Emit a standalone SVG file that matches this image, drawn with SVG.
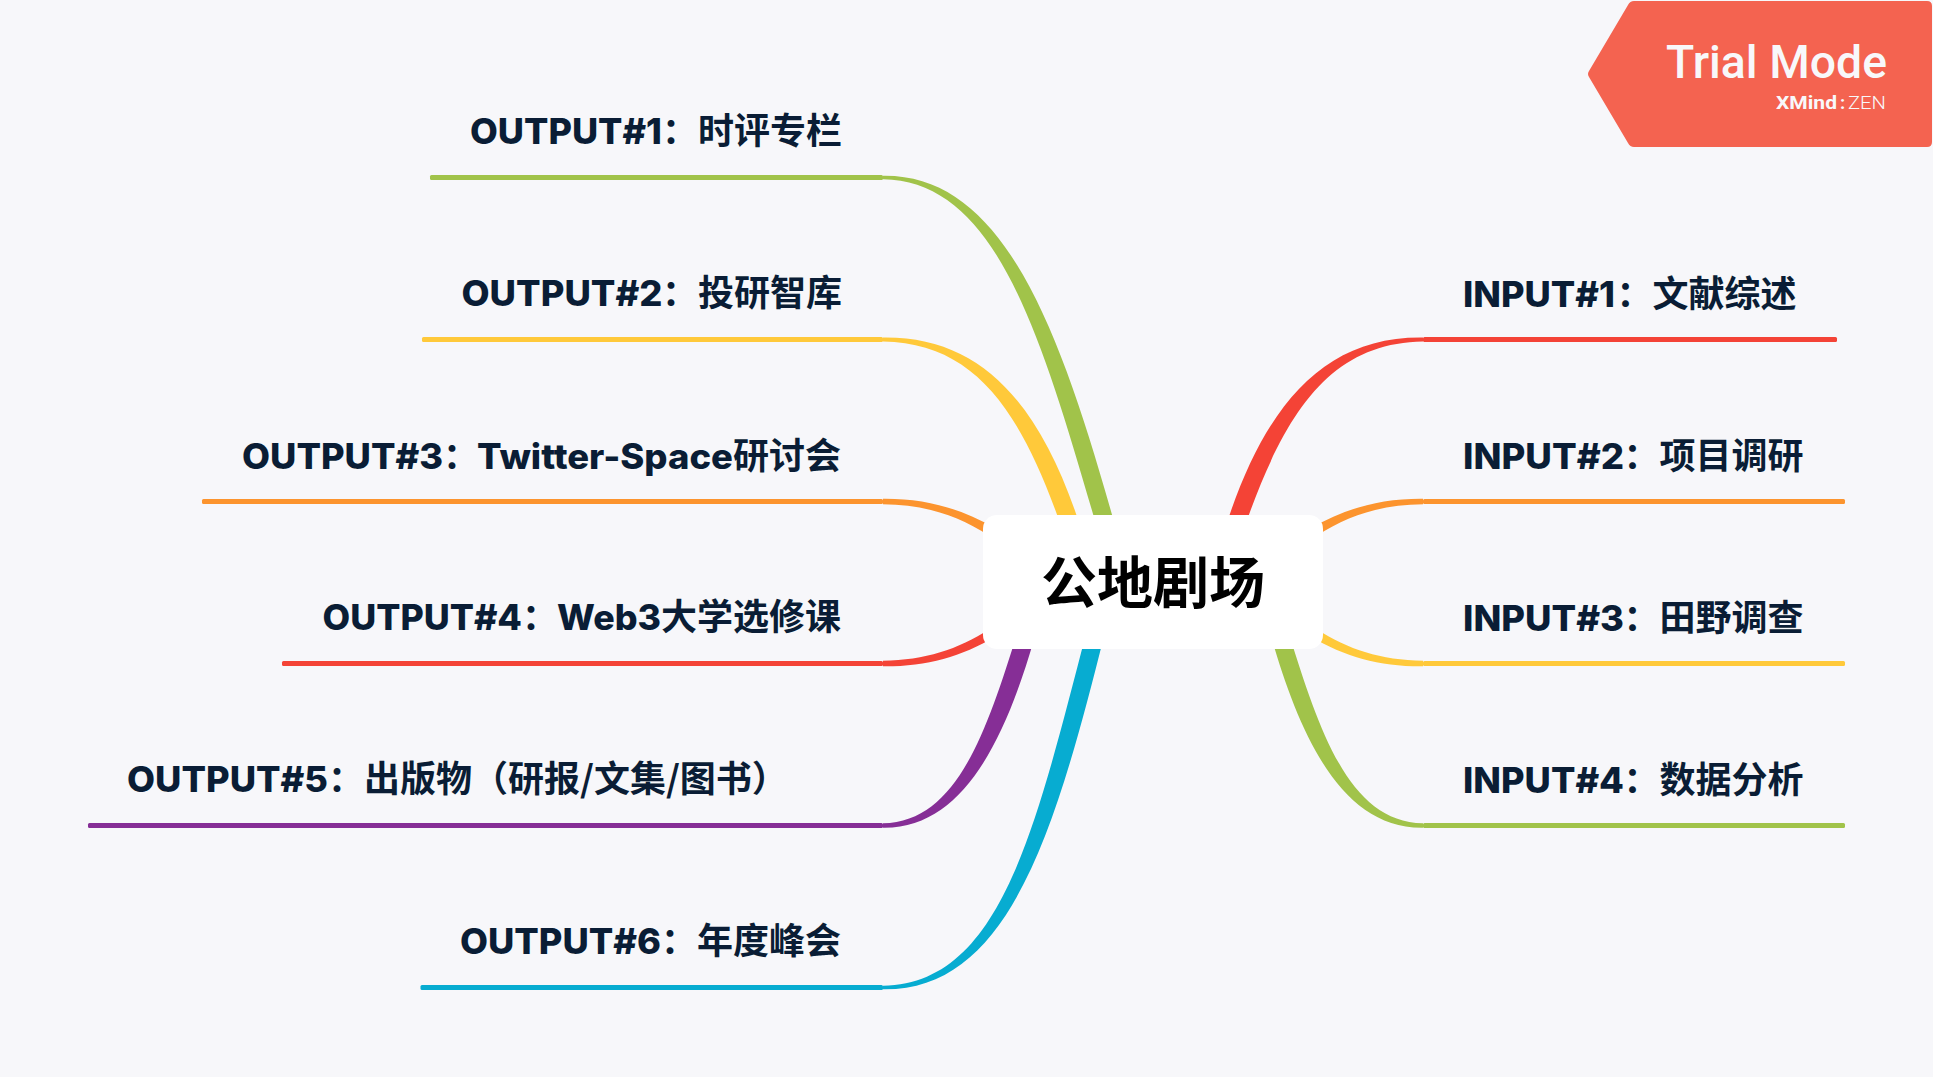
<svg xmlns="http://www.w3.org/2000/svg" width="1933" height="1077" viewBox="0 0 1933 1077">
<style>
.bg{fill:#f7f7fa}
.t{font-family:"Noto Sans CJK SC","Noto Sans",sans-serif;font-weight:700;font-size:36px;fill:#0a1d35}
.l{font-family:Inter,"Noto Sans",sans-serif;font-weight:800;font-size:35px}
.green{fill:#a1c34a}.yellow{fill:#ffc93a}.orange{fill:#fc942e}.red{fill:#f44336}.purple{fill:#862e96}.blue{fill:#07acd1}
</style>
<rect class="bg" x="0" y="0" width="1933" height="1077"/>
<g id="connectors">
<path class="green" d="M883,175.8C1003.5,174 1059.6,327.3 1115.6,527.5L1098.4,532.5C1040.4,332.7 996.5,181 883,179.2Z"/>
<path class="yellow" d="M883,337.4C983.5,336 1041.5,406.7 1080.5,527L1063.5,533C1022.5,413.3 976.5,343 883,341.6Z"/>
<path class="orange" d="M883,498.7C925,498.3 962.1,508.6 994.4,528.1L989.6,535.9C957.9,515.4 925,504.7 883,504.3Z"/>
<path class="red" d="M883,666.3C925,666.7 962.1,656.4 994.4,636.9L989.6,629.1C957.9,649.6 925,660.3 883,660.7Z"/>
<path class="purple" d="M883,827.7C963.5,829 1005.6,737.9 1034.6,637.6L1017.4,632.4C986.4,732.1 956.5,822 883,823.3Z"/>
<path class="blue" d="M883,989.2C1008.5,991 1054.7,832.5 1103.7,637.2L1086.3,632.8C1035.3,827.5 1001.5,984 883,985.8Z"/>
<path class="red" d="M1423,337.4C1322.5,336 1264.5,406.7 1225.5,527L1242.5,533C1283.5,413.3 1329.5,343 1423,341.6Z"/>
<path class="orange" d="M1423,498.7C1381,498.3 1343.9,508.6 1311.6,528.1L1316.4,535.9C1348.1,515.4 1381,504.7 1423,504.3Z"/>
<path class="yellow" d="M1423,666.3C1381,666.7 1343.9,656.4 1311.6,636.9L1316.4,629.1C1348.1,649.6 1381,660.3 1423,660.7Z"/>
<path class="green" d="M1423,827.7C1342.5,829 1300.4,737.9 1271.4,637.6L1288.6,632.4C1319.6,732.1 1349.5,822 1423,823.3Z"/>
</g>
<g id="output1">
<rect class="green" x="430" y="175" width="453" height="5" rx="1.5"/>
<text class="t" y="144.3"><tspan class="l" x="470" textLength="192" lengthAdjust="spacingAndGlyphs">OUTPUT#1</tspan><tspan x="662">：时评专栏</tspan></text>
</g>
<g id="output2">
<rect class="yellow" x="422" y="337" width="461" height="5" rx="1.5"/>
<text class="t" y="306.3"><tspan class="l" x="461.5" textLength="201" lengthAdjust="spacingAndGlyphs">OUTPUT#2</tspan><tspan x="662">：投研智库</tspan></text>
</g>
<g id="output3">
<rect class="orange" x="202" y="499" width="681" height="5" rx="1.5"/>
<text class="t" y="468.5"><tspan class="l" x="242" textLength="201" lengthAdjust="spacingAndGlyphs">OUTPUT#3</tspan><tspan x="443">：</tspan><tspan class="l" x="477" textLength="256" lengthAdjust="spacingAndGlyphs">Twitter-Space</tspan><tspan x="733">研讨会</tspan></text>
</g>
<g id="output4">
<rect class="red" x="282" y="661" width="601" height="5" rx="1.5"/>
<text class="t" y="630.3"><tspan class="l" x="322.5" textLength="199.5" lengthAdjust="spacingAndGlyphs">OUTPUT#4</tspan><tspan x="522">：</tspan><tspan class="l" x="557" textLength="104" lengthAdjust="spacingAndGlyphs">Web3</tspan><tspan x="661">大学选修课</tspan></text>
</g>
<g id="output5">
<rect class="purple" x="88" y="823" width="795" height="5" rx="1.5"/>
<text class="t" y="792"><tspan class="l" x="127" textLength="201" lengthAdjust="spacingAndGlyphs">OUTPUT#5</tspan><tspan x="328">：出版物（研报/文集/图书）</tspan></text>
</g>
<g id="output6">
<rect class="blue" x="420.5" y="985" width="462.5" height="5" rx="1.5"/>
<text class="t" y="954.3"><tspan class="l" x="460" textLength="201" lengthAdjust="spacingAndGlyphs">OUTPUT#6</tspan><tspan x="661">：年度峰会</tspan></text>
</g>
<g id="input1">
<rect class="red" x="1423" y="337" width="414" height="5" rx="1.5"/>
<text class="t" y="307"><tspan class="l" x="1463" textLength="152" lengthAdjust="spacingAndGlyphs">INPUT#1</tspan><tspan x="1616.5">：文献综述</tspan></text>
</g>
<g id="input2">
<rect class="orange" x="1423" y="499" width="422" height="5" rx="1.5"/>
<text class="t" y="468.7"><tspan class="l" x="1463" textLength="161" lengthAdjust="spacingAndGlyphs">INPUT#2</tspan><tspan x="1623.5">：项目调研</tspan></text>
</g>
<g id="input3">
<rect class="yellow" x="1423" y="661" width="422" height="5" rx="1.5"/>
<text class="t" y="631"><tspan class="l" x="1463" textLength="161" lengthAdjust="spacingAndGlyphs">INPUT#3</tspan><tspan x="1623.5">：田野调查</tspan></text>
</g>
<g id="input4">
<rect class="green" x="1423" y="823" width="422" height="5" rx="1.5"/>
<text class="t" y="792.7"><tspan class="l" x="1463" textLength="161" lengthAdjust="spacingAndGlyphs">INPUT#4</tspan><tspan x="1623.5">：数据分析</tspan></text>
</g>
<g id="center">
<rect x="983" y="515" width="340" height="134" rx="14" fill="#ffffff"/>
<text x="1153" y="603" text-anchor="middle" font-family="'Noto Sans CJK SC',sans-serif" font-weight="700" font-size="56" fill="#000000">公地剧场</text>
</g>
<g id="trial-badge">
<path fill="#f46350" d="M1634,1H1927Q1932,1 1932,6V142Q1932,147 1927,147H1634Q1630,147 1628,143L1589,77Q1587,74 1589,71L1628,5Q1630,1 1634,1Z"/>
<text x="1666" y="78.3" font-family="Roboto,sans-serif" font-weight="500" font-size="46" fill="#f8f8fa" textLength="221" lengthAdjust="spacingAndGlyphs">Trial Mode</text>
<text y="109.3" font-family="Roboto,sans-serif" font-size="18.5" fill="#f8f8fa"><tspan x="1776" font-weight="700" textLength="61" lengthAdjust="spacingAndGlyphs">XMind</tspan><tspan x="1840" font-weight="700">:</tspan><tspan x="1848" font-weight="300" textLength="38" lengthAdjust="spacingAndGlyphs">ZEN</tspan></text>
</g>
</svg>
